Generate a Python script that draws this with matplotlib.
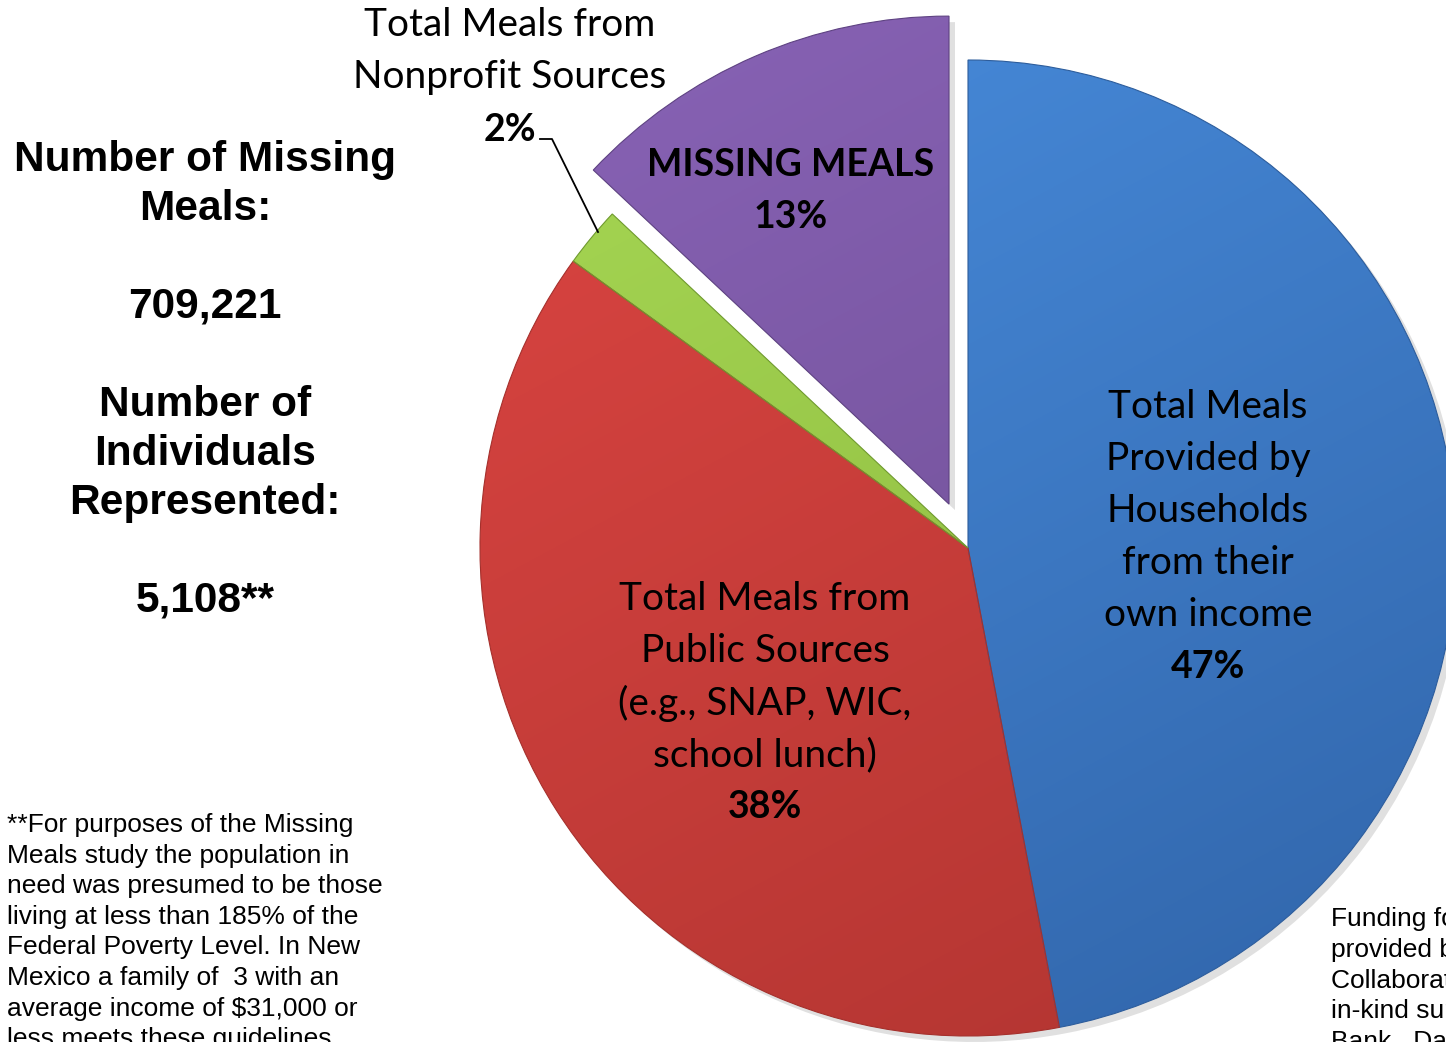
import numpy as np
import matplotlib
matplotlib.use("Agg")
import matplotlib.pyplot as plt
from matplotlib.colors import LinearSegmentedColormap

# ---- data ----
categories = ["Total Meals Provided by Households from their own income",
              "Total Meals from Public Sources (e.g., SNAP, WIC, school lunch)",
              "Total Meals from Nonprofit Sources",
              "MISSING MEALS"]
values = [47, 38, 2, 13]
pct_labels = ["47%", "38%", "2%", "13%"]
explode_frac = [0, 0, 0, 0.098]
grad_top = ["#4a8fe0", "#de4643", "#a8d955", "#8a64b8"]
grad_bot = ["#2f62a6", "#ad332f", "#86b23a", "#664889"]
edge_cols = ["#2d5d9c", "#a5302c", "#6f9a2e", "#5e4282"]

W, H = 1446, 1042
fig = plt.figure(figsize=(W / 100, H / 100), dpi=100)
ax = fig.add_axes([0, 0, 1, 1])


def Y(y):
    return H - y - 3


cx, cy, R = 968, H - 548, 488
explode = [e * R for e in explode_frac]

# shadow pie
ax.pie(values, startangle=90, counterclock=False, explode=explode,
       center=(cx + 6, cy - 6), radius=R, frame=True,
       colors=["#000000"] * 4, wedgeprops=dict(alpha=0.12, linewidth=0))

wedges, _ = ax.pie(values, startangle=90, counterclock=False, explode=explode,
                   center=(cx, cy), radius=R, frame=True,
                   colors=grad_top, wedgeprops=dict(linewidth=0))

xx, yy = np.meshgrid(np.linspace(0, 1, 256), np.linspace(0, 1, 256))
grad = xx * 0.35 + yy * 0.65
for w, c1, c2, ec in zip(wedges, grad_top, grad_bot, edge_cols):
    cmap = LinearSegmentedColormap.from_list("g", [c1, c2])
    im = ax.imshow(grad, cmap=cmap,
                   extent=(cx - R - 60, cx + R + 60, cy - R - 60, cy + R + 60),
                   origin="upper", aspect="auto", zorder=2, interpolation="bilinear")
    im.set_clip_path(w)
    w.set_zorder(3)
    w.set_facecolor("none")
    w.set_edgecolor(ec)
    w.set_linewidth(0.8)

ax.set_xlim(0, W)
ax.set_ylim(0, H)
ax.set_aspect("equal")
ax.axis("off")

calibri = ["Lato", "DejaVu Sans"]
arial = ["Liberation Sans", "DejaVu Sans"]
fs = 28
fsb = 27

# Households label
for i, line in enumerate(["Total Meals", "Provided by", "Households", "from their", "own income"]):
    ax.text(1208, Y(404 + 52 * i), line, ha="center", va="center", fontsize=fs, family=calibri, zorder=5)
ax.text(1208, Y(664), pct_labels[0], ha="center", va="center", fontsize=fsb, family=calibri,
        weight="bold", zorder=5)

# Public label
for i, line in enumerate(["Total Meals from", "Public Sources", "(e.g., SNAP, WIC,", "school lunch)"]):
    ax.text(765, Y(596 + 52 * i), line, ha="center", va="center", fontsize=fs, family=calibri, zorder=5)
ax.text(765, Y(804), pct_labels[1], ha="center", va="center", fontsize=fsb, family=calibri,
        weight="bold", zorder=5)

# Missing label
ax.text(791, Y(162), "MISSING MEALS", ha="center", va="center", fontsize=fsb, family=calibri,
        weight="bold", zorder=5)
ax.text(791, Y(214), pct_labels[3], ha="center", va="center", fontsize=fsb, family=calibri,
        weight="bold", zorder=5)

# Nonprofit label
ax.text(510, Y(22), "Total Meals from", ha="center", va="center", fontsize=fs, family=calibri, zorder=5)
ax.text(510, Y(74), "Nonprofit Sources", ha="center", va="center", fontsize=fs, family=calibri, zorder=5)
ax.text(536, Y(127), pct_labels[2], ha="right", va="center", fontsize=fsb, family=calibri,
        weight="bold", zorder=5)
ax.plot([540, 552, 598], [H - 139, H - 139, H - 232], color="black", lw=1.3, zorder=5)

# left summary
left_lines = [("Number of Missing", 157), ("Meals:", 206), ("709,221", 303),
              ("Number of", 402), ("Individuals", 451), ("Represented:", 500), ("5,108**", 598)]
for t, y in left_lines:
    ax.text(205, Y(y), t, ha="center", va="center", fontsize=30.5, family=arial, weight="bold")

foot = ["**For purposes of the Missing", "Meals study the population in",
        "need was presumed to be those", "living at less than 185% of the",
        "Federal Poverty Level. In New", "Mexico a family of  3 with an",
        "average income of $31,000 or", "less meets these guidelines."]
for i, t in enumerate(foot):
    ax.text(7, Y(822 + 30.6 * i), t, ha="left", va="center", fontsize=19, family=arial)

right_foot = ["Funding for this study was", "provided by the New Mexico",
              "Collaborative to End Hunger with", "in-kind support from Roadrunner Food",
              "Bank.  Data collected in 2011."]
for i, t in enumerate(right_foot):
    ax.text(1331, Y(916 + 30.8 * i), t, ha="left", va="center", fontsize=19, family=arial)

fig.savefig("out.png", dpi=100)
